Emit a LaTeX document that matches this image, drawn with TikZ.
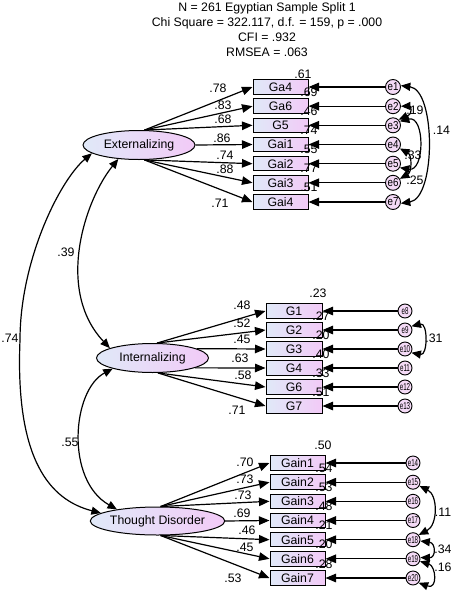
\documentclass[tikz,border=0pt]{standalone}
\usepackage{fontspec}
\setmainfont{Liberation Sans}
\usetikzlibrary{arrows.meta,shapes.geometric}
\definecolor{latL}{RGB}{224,233,248}
\definecolor{latR}{RGB}{242,202,247}
\definecolor{errF}{RGB}{244,218,246}
\begin{document}
\begin{tikzpicture}[x=1pt,y=-1pt,font=\fontsize{12.3}{14}\selectfont,
  lat/.style={ellipse,draw,line width=1pt,minimum width=112pt,minimum height=29pt,inner sep=0pt,left color=latL,right color=latR},
  obs/.style={rectangle,draw,line width=1pt,minimum width=55pt,minimum height=14.5pt,inner sep=0pt,left color=latL,right color=latR},
  err/.style={circle,draw,line width=0.9pt,minimum size=15pt,inner sep=0pt,fill=errF,font=\fontsize{11.5}{11.5}\selectfont},
  errs/.style={circle,draw,line width=0.9pt,minimum size=14pt,inner sep=0pt,fill=errF,font=\fontsize{10}{10}\selectfont},
  arr/.style={line width=1.2pt,-{Triangle[length=10.5pt,width=8.5pt]}},
  cov/.style={line width=1.2pt,{Triangle[length=9.5pt,width=8pt]}-{Triangle[length=9.5pt,width=8pt]}},
  lbl/.style={inner sep=0pt}]
\useasboundingbox (0,0) rectangle (452,595);

% title
\node[align=center,font=\fontsize{12.3}{14.8}\selectfont] (title) at (267,29.5)
  {N = 261 Egyptian Sample Split 1\\Chi Square = 322.117, d.f. = 159, p = .000\\CFI = .932\\RMSEA = .063};

% latent variables
\node[lat] (Ext) at (139,145) {Externalizing};
\node[lat] (Int) at (152.5,358) {Internalizing};
\node[lat,minimum width=111pt,minimum height=28pt] (TD) at (157.5,521) {Thought Disorder};

% Externalizing indicators
\foreach \n/\y/\e in {Ga4/87/e1,Ga6/106.2/e2,G5/125.3/e3,Gai1/144.5/e4,Gai2/163.7/e5,Gai3/182.8/e6,Gai4/202/e7}{
  \node[obs] (\n) at (280.5,\y) {\n};
  \node[err] (\e) at (393,\y) {\scalebox{0.85}[1]{\e}};
}
% Internalizing indicators
\foreach \n/\y/\e in {G1/311/e8,G2/330/e9,G3/349/e10,G4/368/e11,G6/387/e12,G7/406/e13}{
  \node[obs,minimum width=56pt] (\n) at (294,\y) {\n};
  \node[errs] (\e) at (405,\y) {\scalebox{0.62}[1]{\e}};
}
% Thought Disorder indicators
\foreach \n/\y/\e in {Gain1/463/e14,Gain2/482.2/e15,Gain3/501.3/e16,Gain4/520.5/e17,Gain5/539.7/e18,Gain6/558.8/e19,Gain7/578/e20}{
  \node[obs] (\n) at (297.5,\y) {\n};
  \node[errs] (\e) at (413,\y) {\scalebox{0.62}[1]{\e}};
}

% squared multiple correlations
\node[lbl] (r1) at (303,74) {.61};
\foreach \y/\v [count=\i] in {92/.69,111.2/.46,130.3/.74,149.5/.55,168.7/.77,187.8/.51}
  \node[lbl] (rx\i) at (309,\y) {\v};
\node[lbl] (r2) at (318,293) {.23};
\foreach \y/\v [count=\i] in {316/.27,335/.20,354/.40,373/.33,392/.51}
  \node[lbl] (ri\i) at (321,\y) {\v};
\node[lbl] (r3) at (323,445) {.50};
\foreach \y/\v [count=\i] in {468/.54,487.2/.53,506.3/.48,525.5/.21,544.7/.20,563.8/.28}
  \node[lbl] (rt\i) at (324,\y) {\v};

% loading labels
\foreach \x/\y/\v [count=\i] in {218/88/.78,223/105/.83,223/119/.68,222/138/.86,225/155/.74,225/169/.88,220/203/.71}
  \node[lbl] (lx\i) at (\x,\y) {\v};
\foreach \x/\y/\v [count=\i] in {242/305/.48,242/323/.52,242/339/.45,240/358/.63,243/375/.58,237/410/.71}
  \node[lbl] (li\i) at (\x,\y) {\v};
\foreach \x/\y/\v [count=\i] in {245/462/.70,245/479/.73,243/495/.73,242/513/.69,247/530/.46,245/547/.45,233/578/.53}
  \node[lbl] (lt\i) at (\x,\y) {\v};

% loadings
\foreach \n in {Ga4,Ga6,G5} \draw[arr] (Ext.70) -- (\n.west);
\draw[arr] (Ext.east) -- (Gai1.west);
\foreach \n in {Gai2,Gai3,Gai4} \draw[arr] (Ext.-70) -- (\n.west);
\foreach \n in {G1,G2} \draw[arr] (Int.73) -- (\n.west);
\draw[arr] (Int.12) -- (G3.west);
\draw[arr] (Int.-13) -- (G4.west);
\foreach \n in {G6,G7} \draw[arr] (Int.-70) -- (\n.west);
\foreach \n in {Gain1,Gain2,Gain3} \draw[arr] (TD.78) -- (\n.west);
\draw[arr] (TD.east) -- (Gain4.west);
\foreach \n in {Gain5,Gain6,Gain7} \draw[arr] (TD.-78) -- (\n.west);

% error paths
\foreach \e/\n in {e1/Ga4,e2/Ga6,e3/G5,e4/Gai1,e5/Gai2,e6/Gai3,e7/Gai4,
  e8/G1,e9/G2,e10/G3,e11/G4,e12/G6,e13/G7,
  e14/Gain1,e15/Gain2,e16/Gain3,e17/Gain4,e18/Gain5,e19/Gain6,e20/Gain7}
  \draw[arr] (\e.west) -- (\n.east);

% error covariances
\draw[cov] (e1.10) .. controls (436,90) and (436,198) .. (e7.-10);
\node[lbl] (c14) at (441.5,130) {.14};
\draw[cov] (e2.0) .. controls (410,106) and (414,113) .. (e3.45);
\node[lbl] (c19) at (415,110) {.19};
\draw[cov] (e3.30) .. controls (425,115) and (425,172) .. (e5.-30);
\node[lbl] (c33) at (413,155) {.33};
\draw[cov] (e4.-30) .. controls (412,155) and (412,172) .. (e6.30);
\node[lbl] (c25) at (415,180) {.25};
\draw[cov] (e9.30) .. controls (428,322) and (428,356) .. (e10.-30);
\node[lbl] (c31) at (434,338) {.31};
\draw[cov] (e15.-30) .. controls (438,495) and (438,525) .. (e18.40);
\node[lbl] (c11) at (443,512) {.11};
\draw[cov] (e18.-10) .. controls (436,543) and (436,558) .. (e19.10);
\node[lbl] (c34) at (443,549) {.34};
\draw[cov] (e19.-20) .. controls (436,566) and (438,590) .. (e20.-40);
\node[lbl] (c16) at (443,567) {.16};

% factor covariances
\draw[cov] (Ext.214) .. controls (85,200) and (55,290) .. (Int.167);
\node[lbl] (c39) at (66,252) {.39};
\draw[cov] (Ext.190) .. controls (60,180) and (20,260) .. (20,340)
  .. controls (15,460) and (50,500) .. (TD.172);
\node[lbl] (c74) at (10,338) {.74};
\draw[cov] (Int.195) .. controls (72,390) and (65,480) .. (TD.164);
\node[lbl] (c55) at (70,442) {.55};
\end{tikzpicture}
\end{document}
